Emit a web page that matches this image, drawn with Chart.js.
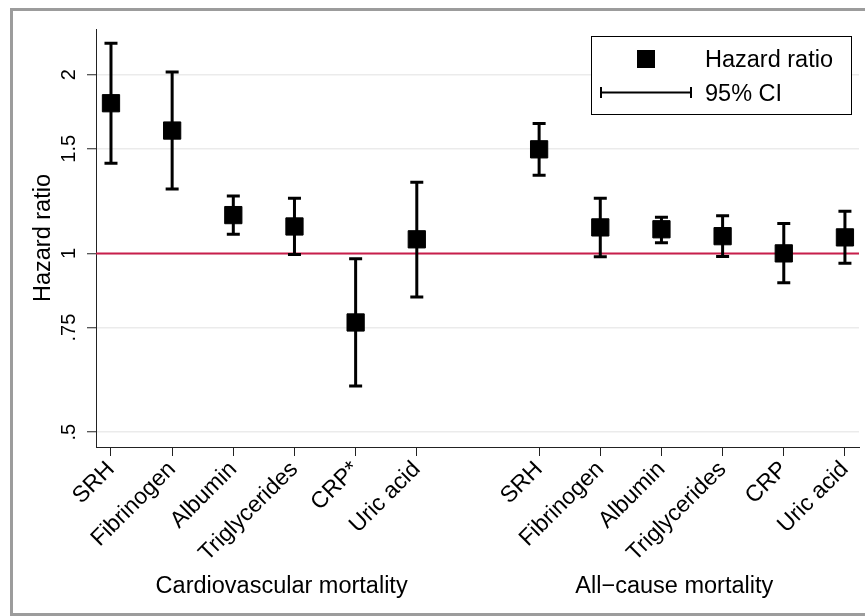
<!DOCTYPE html>
<html>
<head>
<meta charset="utf-8">
<title>Hazard ratios</title>
<script src="https://cdn.jsdelivr.net/npm/chart.js@4/dist/chart.umd.min.js"></script>
<style>
  html, body { margin: 0; padding: 0; background: #fff; }
  canvas { display: block; }
</style>
</head>
<body>
<canvas id="chart" width="865" height="616"></canvas>
<script>
'use strict';

// categories and their slots on the x axis (gap at 7 between the groups)
var markers = ['SRH', 'Fibrinogen', 'Albumin', 'Triglycerides', 'CRP*', 'Uric acid',
               'SRH', 'Fibrinogen', 'Albumin', 'Triglycerides', 'CRP', 'Uric acid'];
var positions = [1, 2, 3, 4, 5, 6, 8, 9, 10, 11, 12, 13];

// hazard ratios and 95% CI
var hazardRatio = [1.79, 1.61, 1.16, 1.11, 0.765, 1.056, 1.497, 1.106, 1.098, 1.069, 1.0, 1.064];
var ciLower = [1.418, 1.283, 1.077, 0.996, 0.598, 0.844, 1.354, 0.987, 1.042, 0.988, 0.892, 0.962];
var ciUpper = [2.259, 2.021, 1.249, 1.238, 0.979, 1.317, 1.654, 1.238, 1.150, 1.157, 1.123, 1.177];

// y ticks
var yTicks = [0.5, 0.75, 1, 1.5, 2];
var yTickLabels = ['.5', '.75', '1', '1.5', '2'];

// group captions under the axis
var groupTitles = ['Cardiovascular mortality', 'All\u2212cause mortality'];
var groupCenters = [3.79, 10.21];

var refValue = 1;
var FONT = '"Liberation Sans", Arial, Helvetica, sans-serif';

var points = positions.map(function(p, i) {
    return {x: p, y: hazardRatio[i]};
});

var stataPlugin = {
    id: 'stata',
    afterLayout: function(chart) {
        // let the x axis run up to the right edge like Stata does
        var xs = chart.scales.x,
            area = chart.chartArea,
            right = chart.width - 6;
        xs.right = right;
        xs.width = right - xs.left;
        area.right = right;
        area.width = right - area.left;
        xs.configure();
    },
    beforeDraw: function(chart) {
        var ctx = chart.ctx;
        ctx.save();
        ctx.fillStyle = '#fff';
        ctx.fillRect(0, 0, chart.width, chart.height);
        ctx.strokeStyle = '#9c9c9c';
        ctx.lineWidth = 3;
        ctx.strokeRect(11.5, 9.5, chart.width + 10, chart.height - 11);
        ctx.restore();
    },
    beforeDatasetsDraw: function(chart) {
        var ctx = chart.ctx,
            xs = chart.scales.x,
            ys = chart.scales.y,
            area = chart.chartArea;
        ctx.save();
        // reference line at HR = 1
        var yr = ys.getPixelForValue(refValue);
        ctx.strokeStyle = '#c81e4b';
        ctx.lineWidth = 2;
        ctx.beginPath();
        ctx.moveTo(area.left, yr);
        ctx.lineTo(area.right, yr);
        ctx.stroke();

        // CI whiskers
        ctx.strokeStyle = '#000';
        ctx.lineWidth = 3;
        ctx.lineCap = 'butt';
        positions.forEach(function(p, i) {
            var x = xs.getPixelForValue(p),
                y1 = ys.getPixelForValue(ciLower[i]),
                y2 = ys.getPixelForValue(ciUpper[i]);
            ctx.beginPath();
            ctx.moveTo(x, y1);
            ctx.lineTo(x, y2);
            ctx.moveTo(x - 6.5, y1);
            ctx.lineTo(x + 6.5, y1);
            ctx.moveTo(x - 6.5, y2);
            ctx.lineTo(x + 6.5, y2);
            ctx.stroke();
        });
        ctx.restore();
    },
    afterDraw: function(chart) {
        var ctx = chart.ctx,
            xs = chart.scales.x,
            ys = chart.scales.y,
            area = chart.chartArea;
        ctx.save();
        ctx.fillStyle = '#000';

        // rotated y tick labels
        ctx.font = '20px ' + FONT;
        ctx.textAlign = 'center';
        ctx.textBaseline = 'alphabetic';
        yTicks.forEach(function(v, i) {
            ctx.save();
            ctx.translate(75, ys.getPixelForValue(v));
            ctx.rotate(-Math.PI / 2);
            ctx.fillText(yTickLabels[i], 0, 0);
            ctx.restore();
        });

        // y title
        ctx.font = '23.5px ' + FONT;
        ctx.save();
        ctx.translate(50, (area.top + area.bottom) / 2);
        ctx.rotate(-Math.PI / 2);
        ctx.fillText('Hazard ratio', 0, 0);
        ctx.restore();

        // group captions
        groupTitles.forEach(function(t, i) {
            ctx.fillText(t, xs.getPixelForValue(groupCenters[i]), 593);
        });

        // legend
        var lx = 591.5, ly = 36.5, lw = 260, lh = 78;
        ctx.fillStyle = '#fff';
        ctx.fillRect(lx, ly, lw, lh);
        ctx.strokeStyle = '#000';
        ctx.lineWidth = 1;
        ctx.strokeRect(lx, ly, lw, lh);
        ctx.fillStyle = '#000';
        ctx.fillRect(637, 50, 18, 18);
        ctx.lineWidth = 2;
        ctx.beginPath();
        ctx.moveTo(601, 92.5);
        ctx.lineTo(691, 92.5);
        ctx.moveTo(601, 87);
        ctx.lineTo(601, 98);
        ctx.moveTo(691, 87);
        ctx.lineTo(691, 98);
        ctx.stroke();
        ctx.textAlign = 'left';
        ctx.fillText('Hazard ratio', 705, 67);
        ctx.fillText('95% CI', 705, 100.5);
        ctx.restore();
    }
};

new Chart(document.getElementById('chart'), {
    type: 'scatter',
    data: {
        datasets: [{
            label: 'Hazard ratio',
            data: points,
            pointStyle: 'rect',
            pointRadius: 12.2,
            pointHoverRadius: 12.2,
            backgroundColor: '#000',
            borderColor: '#000',
            borderWidth: 1
        }]
    },
    options: {
        responsive: false,
        animation: false,
        events: [],
        layout: {padding: {left: 0, top: 29, right: 6, bottom: 0}},
        plugins: {legend: {display: false}, tooltip: {enabled: false}},
        scales: {
            x: {
                type: 'linear',
                min: 0.755,
                max: 13.23,
                afterBuildTicks: function(scale) {
                    scale.ticks = positions.map(function(p) { return {value: p}; });
                },
                afterFit: function(scale) {
                    scale.height = 169;
                },
                grid: {
                    drawOnChartArea: false,
                    drawTicks: true,
                    tickLength: 9,
                    tickColor: '#222',
                    tickWidth: 1
                },
                border: {color: '#222', width: 1},
                ticks: {
                    color: '#000',
                    font: {family: FONT, size: 23},
                    minRotation: 45,
                    maxRotation: 45,
                    autoSkip: false,
                    padding: 0,
                    callback: function(value) {
                        var i = positions.indexOf(value);
                        return i < 0 ? '' : markers[i];
                    }
                }
            },
            y: {
                type: 'logarithmic',
                min: 0.472,
                max: 2.387,
                afterBuildTicks: function(scale) {
                    scale.ticks = yTicks.map(function(v) { return {value: v}; });
                },
                afterFit: function(scale) {
                    scale.width = 96;
                    scale.paddingTop = 0;
                    scale.paddingBottom = 0;
                },
                grid: {
                    color: '#ebebeb',
                    lineWidth: 1.5,
                    drawTicks: true,
                    tickLength: 9,
                    tickColor: '#222',
                    tickWidth: 1
                },
                border: {color: '#222', width: 1},
                ticks: {display: false}
            }
        }
    },
    plugins: [stataPlugin]
});
</script>
</body>
</html>
